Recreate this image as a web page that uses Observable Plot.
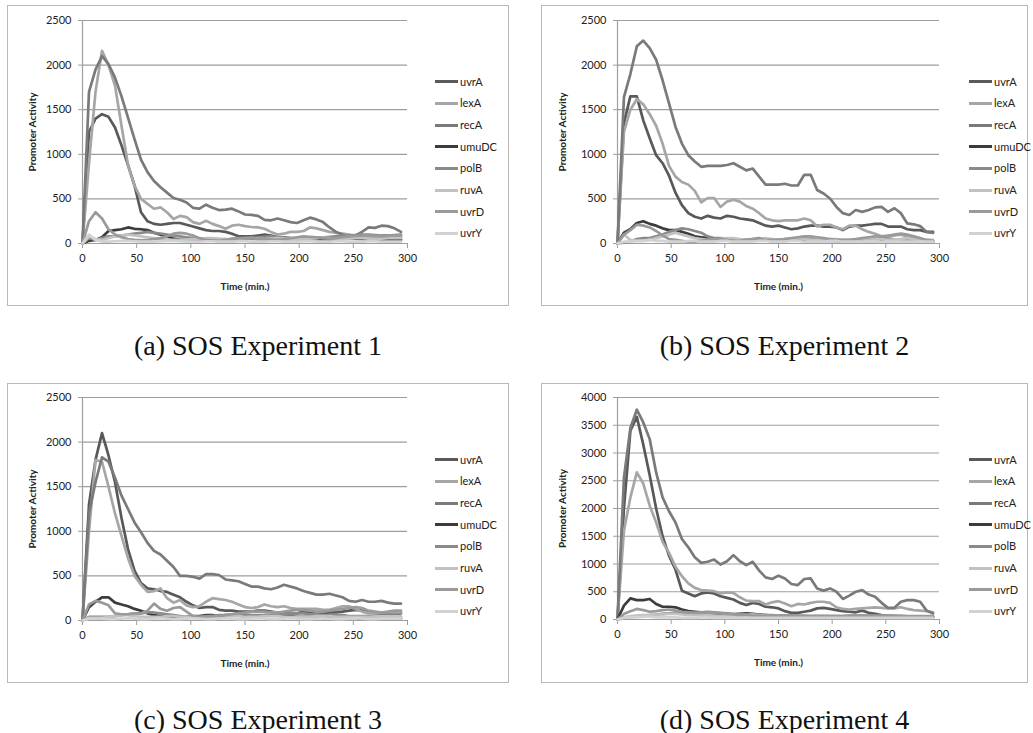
<!DOCTYPE html>
<html><head><meta charset="utf-8">
<script src="https://cdn.jsdelivr.net/npm/d3@7"></script>
<script src="https://cdn.jsdelivr.net/npm/@observablehq/plot@0.6"></script>
<style>
body{margin:0;background:#fff;width:1033px;height:733px;position:relative;overflow:hidden;font-family:Lato,sans-serif;}
.panel{position:absolute;}
.panel svg{position:absolute;left:0;top:0;}
.border{position:absolute;left:0;top:0;right:0;bottom:0;border:1.5px solid #b8b8b8;box-sizing:border-box;pointer-events:none;}
.leg{position:absolute;height:16px;line-height:16px;font-size:11px;color:#222;white-space:nowrap;}
.leg i{display:inline-block;width:23px;height:3px;vertical-align:middle;margin-right:2px;position:relative;top:-1px;}
.caption{position:absolute;text-align:center;font-family:"Liberation Serif","DejaVu Serif",serif;font-size:28px;line-height:32px;color:#111;}
</style></head><body>
<script>
const time = [0,6,12,18,24,30,36,42,48,54,60,66,72,78,84,90,96,102,108,114,120,126,132,138,144,150,156,162,168,174,180,186,192,198,204,210,216,222,228,234,240,246,252,258,264,270,276,282,288,294];
const genes = ["uvrA","lexA","recA","umuDC","polB","ruvA","uvrD","uvrY"];
const geneColors = ["#595959","#a6a6a6","#7a7a7a","#3c3c3c","#8a8a8a","#c2c2c2","#9a9a9a","#d2d2d2"];
const xTicks = [0,50,100,150,200,250,300];
const yTicks2500 = [0,500,1000,1500,2000,2500];
const yTicks4000 = [0,500,1000,1500,2000,2500,3000,3500,4000];
const captions = ["(a) SOS Experiment 1","(b) SOS Experiment 2","(c) SOS Experiment 3","(d) SOS Experiment 4"];

// Experiment 1
const e1_uvrA = [0,1250,1400,1450,1420,1300,1100,880,650,350, 250,220,210,220,230,230,210,190,170,150, 140,140,130,110,80,80,80,90,100,90, 70,70,60,50,60,60,60,60,50,60, 70,80,80,80,70,60,60,60,60,60];
const e1_lexA = [0,900,1700,2160,2000,1770,1320,880,650,500, 445,390,405,350,275,310,295,240,220,255, 220,195,165,200,210,195,185,180,165,130, 100,110,130,130,140,180,170,150,130,120, 110,100,90,80,70,60,80,90,80,80];
const e1_recA = [0,1700,1950,2100,2010,1860,1650,1410,1170,940, 800,700,630,570,510,490,460,400,390,435, 400,375,380,390,360,325,320,310,265,260, 280,260,240,230,260,290,270,240,180,130, 100,60,90,130,180,175,200,195,170,130];
const e1_umuDC = [0,30,40,70,140,150,160,180,165,160, 150,120,100,80,55,45,40,50,45,40, 35,40,45,50,55,60,55,50,45,40, 45,50,50,55,60,55,50,45,45,50, 55,60,55,50,45,40,40,45,40,40];
const e1_polB = [0,60,40,60,80,80,90,100,110,120, 130,120,110,100,90,80,70,60,50,45, 40,40,45,50,55,60,65,70,75,80, 70,60,55,50,50,55,60,70,75,80, 85,90,95,100,100,95,90,90,95,100];
const e1_ruvA = [0,80,50,40,60,80,90,100,90,80, 70,60,50,45,40,40,45,50,55,60, 60,55,50,50,55,60,60,55,50,55, 60,60,55,50,50,55,60,65,60,55, 50,55,60,60,55,50,55,60,60,60];
const e1_uvrD = [0,250,350,280,160,100,70,50,40,35, 40,50,60,80,110,120,110,90,60,40, 35,30,40,50,60,60,60,55,50,45, 40,50,60,70,80,75,70,60,55,60, 70,80,85,90,90,85,80,85,90,90];
const e1_uvrY = [0,100,40,20,20,25,30,30,25,20, 20,20,25,30,30,25,20,20,20,25, 25,20,20,20,25,25,20,20,20,25, 25,20,20,20,25,25,20,20,20,25, 25,20,20,20,25,25,20,20,20,20];

// Experiment 2
const e2_uvrA = [0,1350,1650,1650,1380,1180,990,900,760,570, 430,340,300,280,310,290,280,310,300,280, 270,260,230,200,190,200,180,160,170,190, 200,200,190,190,180,150,190,200,200,210, 220,220,190,190,190,160,150,150,130,130];
const e2_lexA = [0,1250,1500,1620,1560,1450,1320,1120,870,750, 690,660,590,460,510,510,410,470,490,470, 420,390,340,280,260,250,260,260,260,280, 260,190,210,210,180,160,200,200,160,130, 110,80,70,90,100,80,70,50,30,30];
const e2_recA = [0,1640,1900,2210,2275,2190,2060,1830,1570,1310, 1120,990,920,860,870,870,870,880,900,860, 820,840,750,660,660,660,670,650,650,770, 770,600,560,505,410,340,320,375,355,375, 405,410,355,395,340,225,215,195,130,120];
const e2_umuDC = [0,120,160,230,250,220,200,170,150,150, 130,110,80,70,60,50,50,50,50,40, 40,40,40,35,35,40,40,40,35,35, 30,30,30,30,30,30,30,30,30,30, 30,30,30,25,25,25,25,25,20,20];
const e2_polB = [0,10,20,50,60,60,80,100,130,150, 170,160,140,120,80,60,60,50,40,40, 40,50,60,50,40,40,50,50,60,60, 50,40,40,40,30,30,30,30,40,50, 60,60,50,40,40,40,30,30,30,30];
const e2_ruvA = [0,100,40,30,30,40,60,80,100,120, 100,80,60,50,40,40,50,60,60,50, 40,40,50,60,50,40,40,50,60,50, 40,40,40,50,50,40,40,40,50,60, 60,50,40,40,50,60,50,40,40,40];
const e2_uvrD = [0,100,150,210,200,180,140,90,50,40, 30,20,20,30,40,50,50,40,30,30, 40,50,50,40,40,40,50,60,70,80, 80,70,60,50,40,40,40,50,60,70, 80,80,90,100,110,100,80,60,40,30];
const e2_uvrY = [0,20,20,30,30,40,30,30,20,20, 20,30,30,20,20,20,30,30,20,20, 20,20,30,30,20,20,20,30,30,20, 20,20,20,30,30,20,20,20,20,30, 30,20,20,20,20,20,20,20,20,20];

// Experiment 3
const e3_uvrA = [0,1300,1800,2100,1850,1550,1150,800,560,420, 360,350,330,320,290,260,210,170,140,150, 150,120,110,110,100,100,100,110,110,100, 90,90,80,80,100,90,80,80,90,90, 100,110,120,110,90,80,80,80,80,80];
const e3_lexA = [0,1000,1800,1780,1500,1200,950,700,500,400, 320,330,360,250,200,230,170,150,160,210, 250,240,230,210,180,150,140,150,180,160, 150,160,140,130,130,130,130,120,120,140, 160,160,130,100,80,80,90,90,90,90];
const e3_recA = [0,1200,1550,1830,1780,1600,1400,1250,1100,990, 870,780,740,670,600,500,500,490,470,520, 520,510,460,450,440,410,380,380,360,350, 370,400,380,360,330,310,290,290,300,280, 260,220,210,230,210,210,220,200,190,190];
const e3_umuDC = [0,150,210,260,260,200,180,160,130,110, 80,60,50,40,30,30,40,50,50,60, 60,50,60,60,60,50,50,50,60,60, 60,60,50,40,40,40,40,30,30,30, 30,30,30,20,20,20,20,20,20,20];
const e3_polB = [0,40,40,40,40,50,60,70,80,80, 90,90,80,70,60,50,40,40,40,50, 50,60,60,70,70,70,60,60,60,60, 70,70,80,80,80,70,70,60,60,60, 60,50,50,50,50,40,40,40,40,40];
const e3_ruvA = [0,30,30,30,40,50,60,60,50,40, 40,40,40,50,50,40,40,40,30,30, 40,40,50,50,50,40,40,40,50,50, 50,40,40,40,40,40,50,50,50,40, 40,40,40,40,40,40,40,40,40,40];
const e3_uvrD = [0,180,220,200,170,80,70,70,80,80, 110,190,130,110,140,150,100,50,40,40, 50,50,60,70,80,90,100,100,100,90, 90,100,110,120,120,110,100,100,110,120, 130,140,150,140,110,100,90,100,110,110];
const e3_uvrY = [0,20,20,20,15,15,20,25,20,15, 15,20,25,20,15,15,20,25,20,15, 15,20,25,20,15,15,20,25,20,15, 15,20,25,20,15,15,20,25,20,15, 15,20,25,20,15,15,20,20,20,20];

// Experiment 4
const e4_uvrA = [0,2000,3400,3650,3150,2600,2000,1500,1150,900, 520,470,420,470,490,470,420,390,360,300, 260,300,280,230,220,200,150,120,120,140, 160,200,210,190,170,150,140,130,160,120, 100,80,70,60,50,40,40,40,40,50];
const e4_lexA = [0,1600,2200,2650,2450,2050,1750,1400,1200,950, 780,650,570,530,520,510,470,490,480,400, 340,330,330,270,310,330,290,240,280,270, 300,320,320,300,220,190,180,190,200,210, 220,210,200,200,220,190,170,160,150,130];
const e4_recA = [0,2550,3450,3780,3550,3250,2650,2200,1950,1750, 1450,1300,1120,1020,1040,1080,990,1050,1160,1050, 980,1040,880,760,730,790,740,640,620,730, 740,560,520,560,500,370,430,500,530,450, 410,300,210,210,320,350,350,320,160,110];
const e4_umuDC = [0,250,380,350,350,370,280,230,230,220, 180,150,140,130,120,110,100,100,90,100, 110,100,90,80,70,60,60,60,60,50, 50,50,50,40,40,40,40,40,40,40, 40,40,40,40,40,40,40,40,40,40];
const e4_polB = [0,20,40,60,70,80,90,100,110,120, 130,120,120,130,140,130,120,110,100,100, 90,90,80,80,80,70,70,70,60,60, 60,60,60,60,60,60,70,70,70,70, 60,60,60,60,50,50,50,50,40,40];
const e4_ruvA = [0,40,60,70,80,80,90,90,100,100, 90,80,80,80,70,70,60,60,60,70, 80,90,80,70,60,60,50,50,60,60, 60,70,70,60,60,50,50,50,50,50, 50,50,40,40,40,40,40,40,40,40];
const e4_uvrD = [0,100,150,190,170,140,150,170,180,160, 140,130,120,120,130,120,110,100,90,80, 80,70,70,70,70,70,70,70,70,70, 60,60,60,60,60,60,60,70,70,70, 70,70,70,70,70,60,60,60,60,60];
const e4_uvrY = [0,30,40,40,50,50,40,40,40,40, 30,30,30,40,40,30,30,30,30,30, 30,30,30,30,30,30,30,30,30,30, 30,30,30,30,30,30,30,30,30,30, 30,30,30,30,30,30,30,30,30,30];

const panels = [
  {series:[e1_uvrA,e1_lexA,e1_recA,e1_umuDC,e1_polB,e1_ruvA,e1_uvrD,e1_uvrY], yTicks:yTicks2500, box:{x:7,y:5,w:502,h:301}, plot:{l:82,r:407,t:20,b:243}, ylab:50, capY:346},
  {series:[e2_uvrA,e2_lexA,e2_recA,e2_umuDC,e2_polB,e2_ruvA,e2_uvrD,e2_uvrY], yTicks:yTicks2500, box:{x:541,y:5,w:487,h:301}, plot:{l:617,r:939,t:20,b:243}, ylab:55, capY:346},
  {series:[e3_uvrA,e3_lexA,e3_recA,e3_umuDC,e3_polB,e3_ruvA,e3_uvrD,e3_uvrY], yTicks:yTicks2500, box:{x:7,y:383,w:502,h:300}, plot:{l:82,r:407,t:397,b:620}, ylab:50, capY:720},
  {series:[e4_uvrA,e4_lexA,e4_recA,e4_umuDC,e4_polB,e4_ruvA,e4_uvrD,e4_uvrY], yTicks:yTicks4000, box:{x:541,y:383,w:487,h:300}, plot:{l:617,r:939,t:397,b:619}, ylab:55, capY:720}
];

panels.forEach((p, k) => {
  const rows = [];
  genes.forEach((g, i) => p.series[i].forEach((v, j) => rows.push({gene: g, t: time[j], v})));
  const yMax = p.yTicks[p.yTicks.length - 1];
  const chart = Plot.plot({
    width: p.box.w, height: p.box.h,
    marginLeft: p.plot.l - p.box.x,
    marginRight: p.box.x + p.box.w - p.plot.r,
    marginTop: p.plot.t - p.box.y,
    marginBottom: p.box.y + p.box.h - p.plot.b,
    x: {domain: [0, 300]},
    y: {domain: [0, yMax]},
    color: {domain: genes, range: geneColors},
    style: {fontFamily: "Lato, sans-serif", fontSize: "11px", color: "#222", background: "transparent", overflow: "visible"},
    marks: [
      Plot.ruleY(p.yTicks, {stroke: "#9e9e9e", strokeWidth: 1.2}),
      Plot.ruleX([0], {stroke: "#9e9e9e", strokeWidth: 1.2}),
      Plot.axisY({ticks: p.yTicks, tickSize: 4, tickPadding: 7, stroke: "#9e9e9e", label: null, tickFormat: d => String(d)}),
      Plot.axisX({ticks: xTicks, tickSize: 5, tickPadding: 6, stroke: "#9e9e9e", label: null, tickFormat: d => String(d)}),
      Plot.line(rows, {x: "t", y: "v", z: "gene", stroke: "gene", strokeWidth: 2.7, strokeLinejoin: "round"}),
      Plot.text(["Time (min.)"], {text: d => d, frameAnchor: "bottom", dy: 43, lineAnchor: "middle", fontWeight: "bold", fontSize: 10, fill: "#222"}),
      Plot.text(["Promoter Activity"], {text: d => d, frameAnchor: "left", dx: -p.ylab, rotate: -90, lineAnchor: "middle", textAnchor: "middle", fontWeight: "bold", fontSize: 10, fill: "#222"})
    ]
  });
  const div = document.createElement("div");
  div.className = "panel";
  Object.assign(div.style, {left: p.box.x + "px", top: p.box.y + "px", width: p.box.w + "px", height: p.box.h + "px"});
  div.appendChild(chart);
  const border = document.createElement("div");
  border.className = "border";
  div.appendChild(border);
  genes.forEach((g, i) => {
    const row = document.createElement("div");
    row.className = "leg";
    row.style.left = "428px";
    row.style.top = (76.5 + i * 21.7 - 8) + "px";
    const sw = document.createElement("i");
    sw.style.background = geneColors[i];
    row.appendChild(sw);
    row.appendChild(document.createTextNode(g));
    div.appendChild(row);
  });
  document.body.appendChild(div);
  const cap = document.createElement("div");
  cap.className = "caption";
  Object.assign(cap.style, {left: p.box.x + "px", width: p.box.w + "px", top: (p.capY - 16) + "px"});
  cap.textContent = captions[k];
  document.body.appendChild(cap);
});
</script>
</body></html>
